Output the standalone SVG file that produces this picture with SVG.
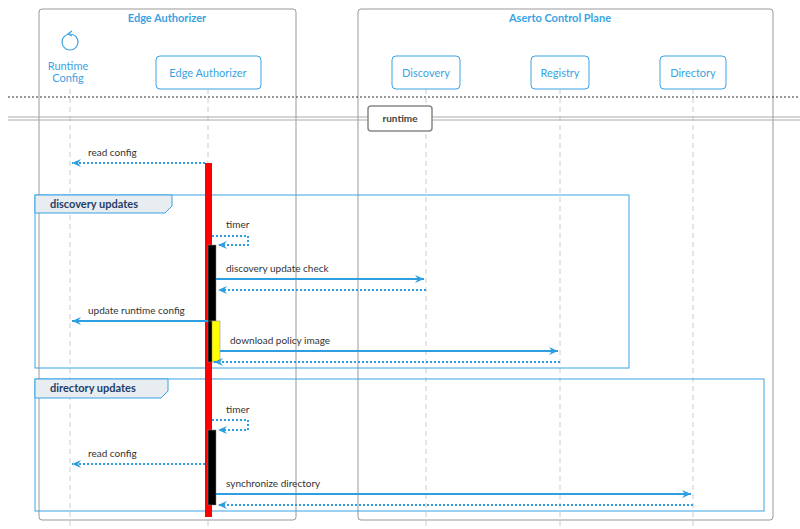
<svg xmlns="http://www.w3.org/2000/svg" width="800" height="529" viewBox="0 0 800 529">
<defs>
<marker id="ah" markerWidth="10" markerHeight="8" refX="9" refY="4" orient="auto" markerUnits="userSpaceOnUse"><path d="M0,0 L9,4 L0,8 L3,4 Z" fill="#2e9ee0"/></marker>
<style>
text{font-family:"Lato","Liberation Sans",sans-serif}
.box{fill:#fff;stroke:#999;stroke-width:1}
.bt{fill:#3aa3e3;font-size:11px;font-weight:bold;text-anchor:middle}
.part rect{fill:#fff;stroke:#3aa3e3;stroke-width:1}
.part text{fill:#3aa3e3;font-size:11px;text-anchor:middle}
.life{stroke:#ccc;stroke-dasharray:5,4;stroke-width:1}
.m{stroke:#2e9ee0;stroke-width:2;fill:none;marker-end:url(#ah)}
.d{stroke-dasharray:2,2}
.lab{fill:#333;font-size:10px}
.grp{fill:none;stroke:#3aa3e3;stroke-width:1}
.tab{fill:#e8edf2;stroke:#3aa3e3;stroke-width:1}
.gt{fill:#1f3d66;font-size:11px;font-weight:bold}
</style>
</defs>
<rect width="800" height="529" fill="#fff"/>
<rect class="box" x="39" y="9" width="257" height="511" rx="3"/>
<text class="bt" x="167" y="22">Edge Authorizer</text>
<rect class="box" x="358" y="9" width="415" height="511" rx="3"/>
<text class="bt" x="560" y="22">Aserto Control Plane</text>
<g id="lifelines">
<line class="life" x1="70" y1="89" x2="70" y2="529"/>
<line class="life" x1="208" y1="89" x2="208" y2="529"/>
<line class="life" x1="426" y1="89" x2="426" y2="529"/>
<line class="life" x1="560" y1="89" x2="560" y2="529"/>
<line class="life" x1="693" y1="89" x2="693" y2="529"/>
</g>
<g id="runtime-config" class="part">
<circle cx="70" cy="42" r="8" fill="none" stroke="#3aa3e3" stroke-width="1.2"/>
<path d="M72,31 L68,34 L72,36" fill="none" stroke="#3aa3e3" stroke-width="1.2"/>
<text x="68" y="70">Runtime</text><text x="68" y="82">Config</text>
</g>
<g id="edge-authorizer" class="part"><rect x="156" y="56" width="105" height="33" rx="4"/><text x="208" y="77">Edge Authorizer</text></g>
<g id="discovery" class="part"><rect x="392" y="56" width="68" height="33" rx="4"/><text x="426" y="77">Discovery</text></g>
<g id="registry" class="part"><rect x="531" y="56" width="58" height="33" rx="4"/><text x="560" y="77">Registry</text></g>
<g id="directory" class="part"><rect x="660" y="56" width="66" height="33" rx="4"/><text x="693" y="77">Directory</text></g>
<line x1="8" y1="97" x2="800" y2="97" stroke="#333" stroke-dasharray="2,2"/>
<line x1="8" y1="117" x2="800" y2="117" stroke="#aaa"/>
<line x1="8" y1="120" x2="800" y2="120" stroke="#aaa"/>
<g id="runtime-divider"><rect x="368" y="106" width="64" height="25" rx="3" fill="#fff" stroke="#888" stroke-width="1.5"/><text x="400" y="122" text-anchor="middle" font-size="10" font-weight="bold" fill="#444">runtime</text></g>
<g id="discovery-updates">
<rect class="grp" x="35" y="195" width="594" height="173"/>
<path class="tab" d="M35,195 H172 V206 L165,213 H35 Z"/>
<text class="gt" x="50" y="208">discovery updates</text>
</g>
<g id="directory-updates">
<rect class="grp" x="35" y="379" width="729" height="132"/>
<path class="tab" d="M35,379 H168 V391 L161,398 H35 Z"/>
<text class="gt" x="50" y="392">directory updates</text>
</g>
<g id="activations">
<rect x="205" y="163" width="7" height="354" fill="#f00"/>
<rect x="208" y="245" width="8" height="77" fill="#000" stroke="#888" stroke-width="0.5"/>
<rect x="208" y="321" width="8" height="41" fill="#000" stroke="#888" stroke-width="0.5"/>
<rect x="212" y="321" width="8" height="41" fill="#ff0" stroke="#888" stroke-width="0.5"/>
<rect x="208" y="430" width="8" height="75" fill="#000" stroke="#888" stroke-width="0.5"/>
</g>
<g id="connectors">
<path class="m d" d="M205,163 H72"/><text class="lab" x="88" y="156">read config</text>
<path class="m d" d="M212,236 H248 V245 H218"/><text class="lab" x="226" y="228">timer</text>
<path class="m" d="M216,279 H424"/><text class="lab" x="226" y="272">discovery update check</text>
<path class="m d" d="M426,290 H218"/>
<path class="m" d="M208,321 H72"/><text class="lab" x="88" y="314">update runtime config</text>
<path class="m" d="M220,351 H558"/><text class="lab" x="230" y="344">download policy image</text>
<path class="m d" d="M560,362 H214"/>
<path class="m d" d="M212,420 H248 V430 H218"/><text class="lab" x="226" y="413">timer</text>
<path class="m d" d="M205,464 H72"/><text class="lab" x="88" y="457">read config</text>
<path class="m" d="M216,494 H691"/><text class="lab" x="226" y="487">synchronize directory</text>
<path class="m d" d="M693,505 H218"/>
</g>
</svg>
